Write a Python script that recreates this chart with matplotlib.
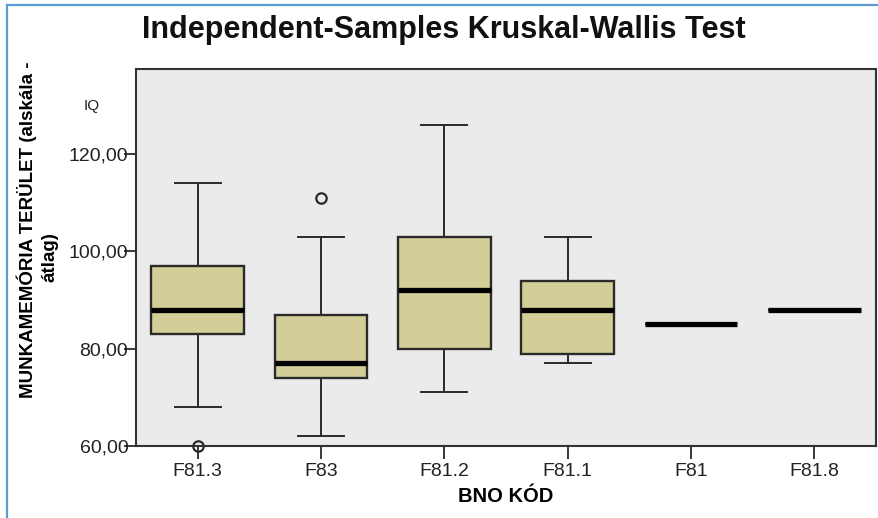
import matplotlib
matplotlib.use("Agg")
import matplotlib.pyplot as plt
from matplotlib.lines import Line2D

plt.rcParams['font.family'] = ['Liberation Sans', 'DejaVu Sans']

categories = ["F81.3", "F83", "F81.2", "F81.1", "F81", "F81.8"]
whisker_low = [68, 62, 71, 77, 85, 88]
q1 = [83, 74, 80, 79, 85, 88]
median = [88, 77, 92, 88, 85, 88]
q3 = [97, 87, 103, 94, 85, 88]
whisker_high = [114, 103, 126, 103, 85, 88]
outliers = [[60], [111], [], [], [], []]
ytick_vals = [60, 80, 100, 120]
ytick_labels = ["60,00", "80,00", "100,00", "120,00"]

fig = plt.figure(figsize=(8.79, 5.18), dpi=100)
fig.patch.set_facecolor("white")
ax = fig.add_axes([136/879, 1-446/518, (876-136)/879, (446-69)/518])
ax.set_facecolor("#ebebeb")

stats = []
for i, c in enumerate(categories):
    stats.append(dict(label=c, whislo=whisker_low[i], q1=q1[i], med=median[i],
                      q3=q3[i], whishi=whisker_high[i], fliers=outliers[i]))

edge = "#2a2a2a"
res = ax.bxp(stats, positions=range(len(categories)), widths=0.75,
             patch_artist=True, showfliers=True,
             boxprops=dict(facecolor="#d3ce98", edgecolor=edge, linewidth=1.7),
             medianprops=dict(color="black", linewidth=3.8, solid_capstyle="butt"),
             whiskerprops=dict(color=edge, linewidth=1.4),
             capprops=dict(color=edge, linewidth=1.4),
             flierprops=dict(marker="o", markerfacecolor="none", markeredgecolor=edge,
                             markersize=7.5, markeredgewidth=1.6))
for f in res["fliers"]:
    f.set_clip_on(False)
    f.set_zorder(5)

ax.set_xlim(-0.5, 5.5)
ax.set_ylim(60, 137.5)
ax.set_yticks(ytick_vals)
ax.set_yticklabels(ytick_labels)
ax.set_xticks(range(len(categories)))
ax.set_xticklabels(categories)
ax.tick_params(axis="y", direction="out", length=9, width=1.3, color=edge,
               labelsize=14, pad=-3.5, labelcolor="#222222")
ax.tick_params(axis="x", direction="out", length=9, width=1.3, color=edge,
               labelsize=14, pad=3, labelcolor="#222222")
for s in ax.spines.values():
    s.set_color("#333333")
    s.set_linewidth(1.5)

ax.set_xlabel("BNO KÓD", fontsize=14.5, fontweight="bold", labelpad=5)

fig.text(444/879, 1-30/518, "Independent-Samples Kruskal-Wallis Test",
         ha="center", va="center", fontsize=22, fontweight="bold", color="#111111")
fig.text(27/879, 1-230/518, "MUNKAMEMÓRIA TERÜLET (alskála -", rotation=90,
         ha="center", va="center", fontsize=13.5, fontweight="bold")
fig.text(50/879, 1-257/518, "átlag)", rotation=90,
         ha="center", va="center", fontsize=13.5, fontweight="bold")
fig.text(92/879, 1-106/518, "IQ", ha="center", va="center", fontsize=11, color="#222222")

blue = "#5b9bd5"
fig.add_artist(Line2D([7/879, 1], [1-5/518, 1-5/518], transform=fig.transFigure, color=blue, lw=1.6))
fig.add_artist(Line2D([7/879, 7/879], [0, 1-5/518], transform=fig.transFigure, color=blue, lw=1.6))

fig.savefig("out.png", dpi=100)
